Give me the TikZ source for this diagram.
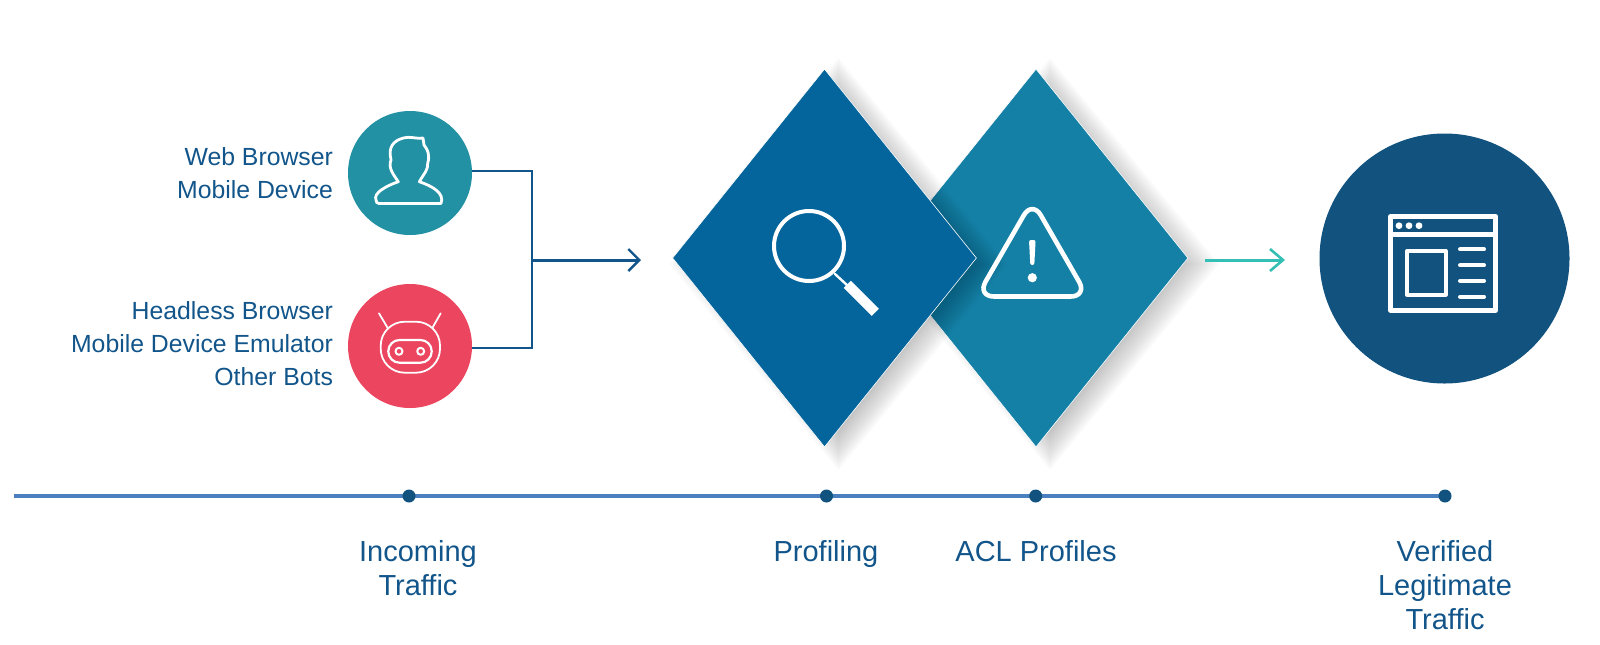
\documentclass[tikz,border=0pt]{standalone}
\usepackage{fontspec}
\setmainfont{Liberation Sans}
\usetikzlibrary{shapes.geometric,arrows.meta}

\definecolor{inkblue}{HTML}{12558A}
\definecolor{tealc}{HTML}{2191A3}
\definecolor{redc}{HTML}{EC455F}
\definecolor{profilec}{HTML}{03659B}
\definecolor{aclc}{HTML}{1480A6}
\definecolor{navyc}{HTML}{11527F}
\definecolor{greenc}{HTML}{34BFB4}
\definecolor{linec}{HTML}{4A7FC0}

\tikzset{
  disc/.style={circle,inner sep=0pt,minimum size=#1},
  rhomb/.style={diamond,draw=white,line width=0.3pt,inner sep=0pt,minimum width=152pt,minimum height=189pt},
  sidelabel/.style={anchor=east,align=right,text=inkblue,font=\fontsize{12.4}{16.5}\selectfont},
  steplabel/.style={anchor=north,align=center,text=inkblue,font=\fontsize{14.5}{17}\selectfont},
  tick/.style={circle,fill=navyc,inner sep=0pt,minimum size=6.5pt},
  icon/.style={draw=white,line width=#1,line join=round,line cap=round},
  icon/.default=2pt
}

% soft shadow, a stack of faint diamonds
\newcommand{\softshadow}[2]{
  \foreach \g in {-28,-25,...,18} {
    \fill[black,opacity=0.02] (#1+14-152-\g,#2+6) -- (#1+14,#2+6-189-\g)
      -- (#1+14+152+\g,#2+6) -- (#1+14,#2+6+189+\g) -- cycle;
  }
}

\begin{document}
\begin{tikzpicture}[x=0.5pt,y=-0.5pt]
  \useasboundingbox (0,0) rectangle (1600,644);

  % sources
  \node[disc=62pt,fill=tealc] (browser) at (410,173) {};
  \node[disc=62pt,fill=redc] (bot) at (410,346) {};
  \node[sidelabel] (browserlabel) at (340,173.5) {Web Browser\\Mobile Device};
  \node[sidelabel] (botlabel) at (340,344) {Headless Browser\\Mobile Device Emulator\\Other Bots};

  % person
  \draw[icon=1.4pt] (379,203.5) -- (441,203.5)
    .. controls (445,193) and (432,186) .. (419.3,181.7)
    .. controls (425,172) and (428,170) .. (427.7,163.3)
    .. controls (430,155) and (428,150) .. (424,145)
    -- (423,138) .. controls (415,139) and (410,136) .. (403.3,138)
    .. controls (393,141) and (388,147) .. (391,160)
    .. controls (388,168) and (393,174) .. (398.3,181.7)
    .. controls (386,186) and (373,193) .. (376,200)
    .. controls (376,202) and (377,203.5) .. (379,203.5) -- cycle;

  % robot
  \draw[icon=0.9pt] (379,313.3) -- (387.3,327.3);
  \draw[icon=0.9pt] (440.7,313.3) -- (432.7,327.3);
  \draw[icon=0.9pt,rounded corners=12pt] (380.7,321.7) rectangle (440,372.7);
  \draw[icon=1.1pt,rounded corners=5.6pt] (388.3,340) rectangle (431.7,362.7);
  \draw[icon=1pt] (399,351.3) circle (3.5);
  \draw[icon=1pt] (420.7,351.3) circle (3.5);

  % connectors
  \coordinate (junction) at (531.7,260);
  \coordinate (arrowend) at (641,260);
  \draw[inkblue,line width=1pt] (browser.2) -| (junction);
  \draw[inkblue,line width=1pt] (bot.-2) -| (junction);
  \draw[inkblue,line width=1.5pt,-{Straight Barb[length=5.5pt,width=11pt,line width=1.2pt]}] (junction) -- (arrowend);

  % diamonds
  \softshadow{1036}{258}
  \node[rhomb,fill=aclc] (acl) at (1036,258) {};
  \softshadow{824.5}{258}
  \node[rhomb,fill=profilec] (profile) at (824.5,258) {};

  % magnifier
  \draw[icon=2pt] (809,246) circle (35);
  \draw[icon=1.2pt] (835,274) -- (848,286);
  \draw[draw=white,line width=5pt] (847.3,284.3) -- (875.3,312.3);

  % warning sign
  \draw[icon=2.3pt,rounded corners=8.5pt] (1032.3,200.5) -- (1087.6,296.5) -- (977,296.5) -- cycle;
  \fill[white,rounded corners=1pt] (1029,240) -- (1035.6,240) -- (1034.3,265) -- (1030.3,265) -- cycle;
  \fill[white] (1032.3,277.7) circle (4.6);

  % second arrow
  \coordinate (greenstart) at (1205,260);
  \coordinate (greenend) at (1285,260);
  \draw[greenc,line width=1.5pt,-{Straight Barb[length=6.5pt,width=11pt,line width=1.3pt]}] (greenstart) -- (greenend);

  % result
  \node[disc=125pt,fill=navyc] (result) at (1444.5,258.5) {};
  \draw[icon=2.6pt,line cap=butt] (1390.8,216.5) rectangle (1495.5,310.2);
  \draw[icon=2.6pt,line cap=butt] (1390.8,234.3) -- (1495.5,234.3);
  \foreach \x in {1399,1409,1419} \fill[white] (\x,225.7) circle (3.4);
  \draw[icon=2pt] (1407,251) rectangle (1445.7,294.7);
  \foreach \y in {249.3,265.3,280.7,296.7} \draw[icon=2pt] (1460,\y) -- (1484,\y);

  % timeline
  \coordinate (linestart) at (14,496);
  \coordinate (lineend) at (1445,496);
  \draw[linec,line width=1.7pt] (linestart) -- (lineend);
  \node[tick] (tickin) at (409,496) {};
  \node[tick] (tickprofile) at (826.5,496) {};
  \node[tick] (tickacl) at (1035.7,496) {};
  \node[tick] (tickout) at (lineend) {};

  \node[steplabel] (inlabel) at (418,533) {Incoming\\Traffic};
  \node[steplabel] (profilelabel) at (826,533) {Profiling};
  \node[steplabel] (acllabel) at (1036,533) {ACL Profiles};
  \node[steplabel] (outlabel) at (1445,533) {Verified\\Legitimate\\Traffic};
\end{tikzpicture}
\end{document}
